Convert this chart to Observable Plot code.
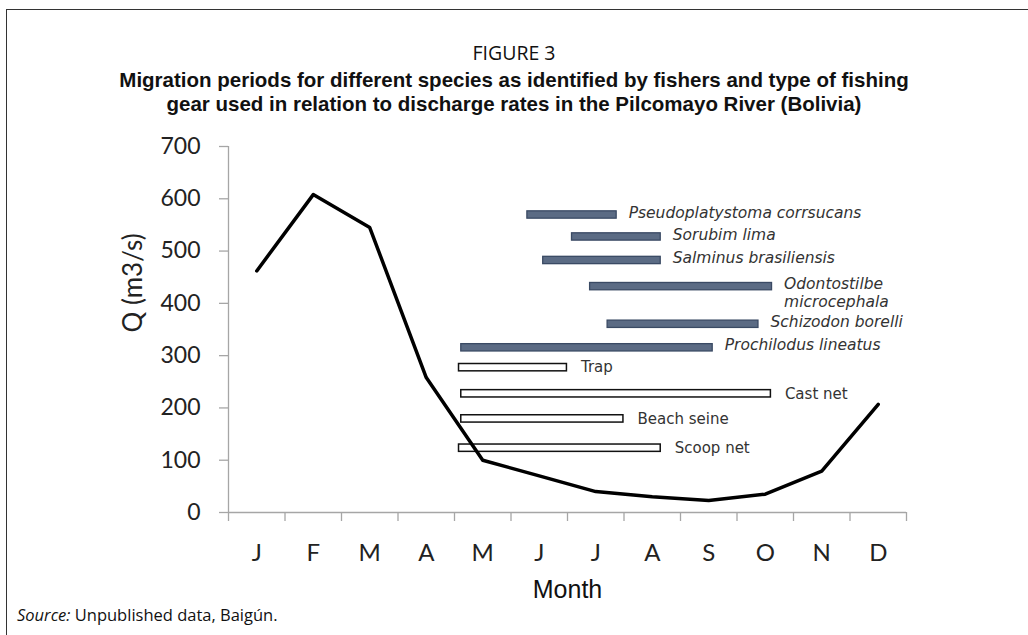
<!DOCTYPE html>
<html>
<head>
<meta charset="utf-8">
<script src="https://cdn.jsdelivr.net/npm/d3@7"></script>
<script src="https://cdn.jsdelivr.net/npm/@observablehq/plot@0.6"></script>
<style>
  html, body { margin: 0; padding: 0; background: #fff; width: 1028px; height: 635px; overflow: hidden; }
  #frame { position: absolute; left: 6px; top: 9px; width: 1030px; height: 640px;
           border-left: 1.5px solid #333; border-top: 1.5px solid #333; }
  .t { position: absolute; left: 0; width: 1028px; text-align: center; font-family: "Open Sans", sans-serif; color: #111; line-height: 22px; }
  #fig { top: 42px; font-size: 19.5px; }
  .title { font-family: "Liberation Sans", Arial, sans-serif; font-size: 20.5px; font-weight: bold; }
  #title1 { top: 69px; }
  #title2 { top: 93px; }
  #chart { position: absolute; left: 0; top: 120px; }
  #source { position: absolute; left: 17px; top: 603px; font-family: "Open Sans", sans-serif; font-size: 16.5px; color: #111; }
</style>
</head>
<body>
<div id="frame"></div>
<div class="t" id="fig">FIGURE 3</div>
<div class="t title" id="title1">Migration periods for different species as identified by fishers and type of fishing</div>
<div class="t title" id="title2">gear used in relation to discharge rates in the Pilcomayo River (Bolivia)</div>
<div id="chart"></div>
<div id="source"><i>Source:</i> Unpublished data, Baigún.</div>
<script>
// Months (category labels) and mean discharge Q (m3/s)
const months = ["J", "F", "M", "A", "M", "J", "J", "A", "S", "O", "N", "D"];
const discharge = [462, 608, 545, 258, 100, 70, 40, 30, 23, 35, 79, 207];
const yTicks = [0, 100, 200, 300, 400, 500, 600, 700];

// Migration periods (month units from start of January) and the Q level each bar sits at
const species = ["Pseudoplatystoma corrsucans", "Sorubim lima", "Salminus brasiliensis", "Odontostilbe\nmicrocephala", "Schizodon borelli", "Prochilodus lineatus"];
const speciesStart = [5.29, 6.08, 5.57, 6.40, 6.71, 4.12];
const speciesEnd = [6.87, 7.65, 7.65, 9.62, 9.38, 8.57];
const speciesLevel = [569, 527, 482, 432, 360, 315];

// Fishing gear periods
const gear = ["Trap", "Cast net", "Beach seine", "Scoop net"];
const gearStart = [4.08, 4.12, 4.12, 4.08];
const gearEnd = [5.99, 9.60, 6.99, 7.65];
const gearLevel = [277, 227, 179, 123];

const speciesData = species.map((name, i) => ({name, start: speciesStart[i], end: speciesEnd[i], q: speciesLevel[i]}));
const gearData = gear.map((name, i) => ({name, start: gearStart[i], end: gearEnd[i], q: gearLevel[i]}));
const flow = discharge.map((q, i) => ({m: i + 0.5, q}));

const axisGray = "#a6a6a6";
const half = 7; // half bar thickness in Q units

const chart = Plot.plot({
  width: 1028,
  height: 490,
  marginLeft: 228,
  marginRight: 122,
  marginTop: 26,
  marginBottom: 98,
  style: {background: "transparent", fontFamily: "Lato, sans-serif"},
  x: {type: "linear", domain: [0, months.length], axis: null},
  y: {domain: [0, 700], axis: null},
  marks: [
    Plot.axisY({ticks: yTicks, tickSize: 9, tickPadding: 19, stroke: axisGray, strokeWidth: 1.3,
                fill: "#222", fontSize: 23, fontFamily: "Lato, sans-serif", label: null}),
    Plot.ruleX([0], {stroke: axisGray, strokeWidth: 1.3}),
    Plot.axisX({ticks: d3.range(months.length + 1), tickSize: 9, stroke: axisGray, strokeWidth: 1.3,
                tickFormat: () => "", label: null}),
    Plot.axisX({ticks: months.map((_, i) => i + 0.5), tickSize: 0, tickPadding: 31,
                tickFormat: (d) => months[Math.floor(d)], fill: "#222", fontSize: 24,
                fontFamily: "Lato, sans-serif", label: null}),
    Plot.ruleY([0], {stroke: axisGray, strokeWidth: 1.3}),
    Plot.text(["Q (m3/s)"], {frameAnchor: "left", dx: -95, dy: 3, rotate: -90, fontSize: 26,
                             fill: "#222", fontFamily: "Lato, sans-serif"}),
    Plot.text(["Month"], {frameAnchor: "bottom", dy: 85, fontSize: 25, fill: "#111",
                          fontFamily: "Liberation Sans, Arial, sans-serif"}),
    Plot.rect(gearData, {x1: "start", x2: "end", y1: (d) => d.q - half, y2: (d) => d.q + half,
                         fill: "white", stroke: "#111", strokeWidth: 1.5}),
    Plot.rect(speciesData, {x1: "start", x2: "end", y1: (d) => d.q - half, y2: (d) => d.q + half,
                            fill: "#5b6b84", stroke: "#3a4a64", strokeWidth: 1.3}),
    Plot.line(flow, {x: "m", y: "q", stroke: "#000", strokeWidth: 3.5, strokeLinejoin: "round"}),
    Plot.text(speciesData, {x: "end", y: "q", text: "name", textAnchor: "start", dx: 12,
                            lineAnchor: "top", dy: -10, lineHeight: 1.15, fontSize: 15.5, fontStyle: "italic",
                            fill: "#333", fontFamily: "DejaVu Sans, sans-serif"}),
    Plot.text(gearData, {x: "end", y: "q", text: "name", textAnchor: "start", dx: 14,
                         fontSize: 15, fill: "#333", fontFamily: "DejaVu Sans, sans-serif"})
  ]
});
document.getElementById("chart").appendChild(chart);
</script>
</body>
</html>
